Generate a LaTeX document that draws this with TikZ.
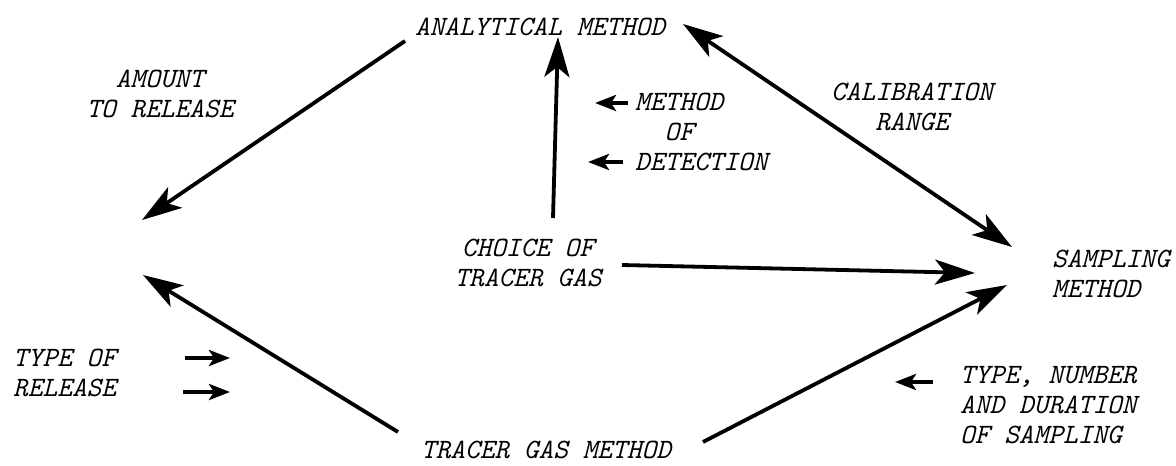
\documentclass[tikz,border=0pt]{standalone}
\usepackage{fontspec}
\usetikzlibrary{arrows.meta}
\begin{document}
\begin{tikzpicture}[x=1pt,y=-1pt,
  lbl/.style={font=\fontsize{28}{30}\selectfont\ttfamily\itshape, inner sep=0pt},
  bighead/.tip={Stealth[length=40pt,width=25pt,inset=10pt]},
  flow/.style={line width=3.8pt, -bighead},
  flowboth/.style={line width=3.8pt, bighead-bighead},
  hint/.style={line width=3.8pt, -{Stealth[length=21pt,width=16pt,inset=5pt]}}]
\useasboundingbox (0,0) rectangle (1176,466);

% labels
\node[lbl] (anal) at (540,27) {ANALYTICAL METHOD};
\node[lbl, align=center] (amount) at (160,94) {AMOUNT\\TO RELEASE};
\node[lbl, align=center] (calib) at (912,107) {CALIBRATION\\RANGE};
\node[lbl, align=left, anchor=west] (detect) at (635,132) {METHOD\\\phantom{ME}OF\\DETECTION};
\node[lbl, align=center] (choice) at (528,263) {CHOICE OF\\TRACER GAS};
\node[lbl, align=left, anchor=west] (sampling) at (1052,274) {SAMPLING\\METHOD};
\node[lbl, align=left, anchor=west] (typeof) at (13,373) {TYPE OF\\RELEASE};
\node[lbl, align=left, anchor=west] (typenum) at (960,405) {TYPE, NUMBER\\AND DURATION\\OF SAMPLING};
\node[lbl] (tgm) at (546,450) {TRACER GAS METHOD};

% connector end points
\coordinate (amtS) at (405,41);
\coordinate (amtE) at (142,220);
\coordinate (tgmL) at (398,432);
\coordinate (relE) at (143,275);
\coordinate (chU) at (553,218);
\coordinate (anB) at (558,37);
\coordinate (anR) at (683,24);
\coordinate (smT) at (1012,247);
\coordinate (chR) at (622,265);
\coordinate (smM) at (975,273);
\coordinate (tgmR) at (703,442);
\coordinate (smB) at (1007,285);

% main relations
\draw[flow] (amtS) -- (amtE);
\draw[flow] (tgmL) -- (relE);
\draw[flow] (chU) -- (anB);
\draw[flowboth] (anR) -- (smT);
\draw[flow] (chR) -- (smM);
\draw[flow] (tgmR) -- (smB);

% influencing factors
\coordinate (d1s) at (628,103); \coordinate (d1e) at (595,103);
\coordinate (d2s) at (623,162); \coordinate (d2e) at (588,162);
\coordinate (r1s) at (185,358); \coordinate (r1e) at (230,358);
\coordinate (r2s) at (183,392); \coordinate (r2e) at (230,392);
\coordinate (n1s) at (933,382); \coordinate (n1e) at (895,382);
\draw[hint] (d1s) -- (d1e);
\draw[hint] (d2s) -- (d2e);
\draw[hint] (r1s) -- (r1e);
\draw[hint] (r2s) -- (r2e);
\draw[hint] (n1s) -- (n1e);
\end{tikzpicture}
\end{document}
